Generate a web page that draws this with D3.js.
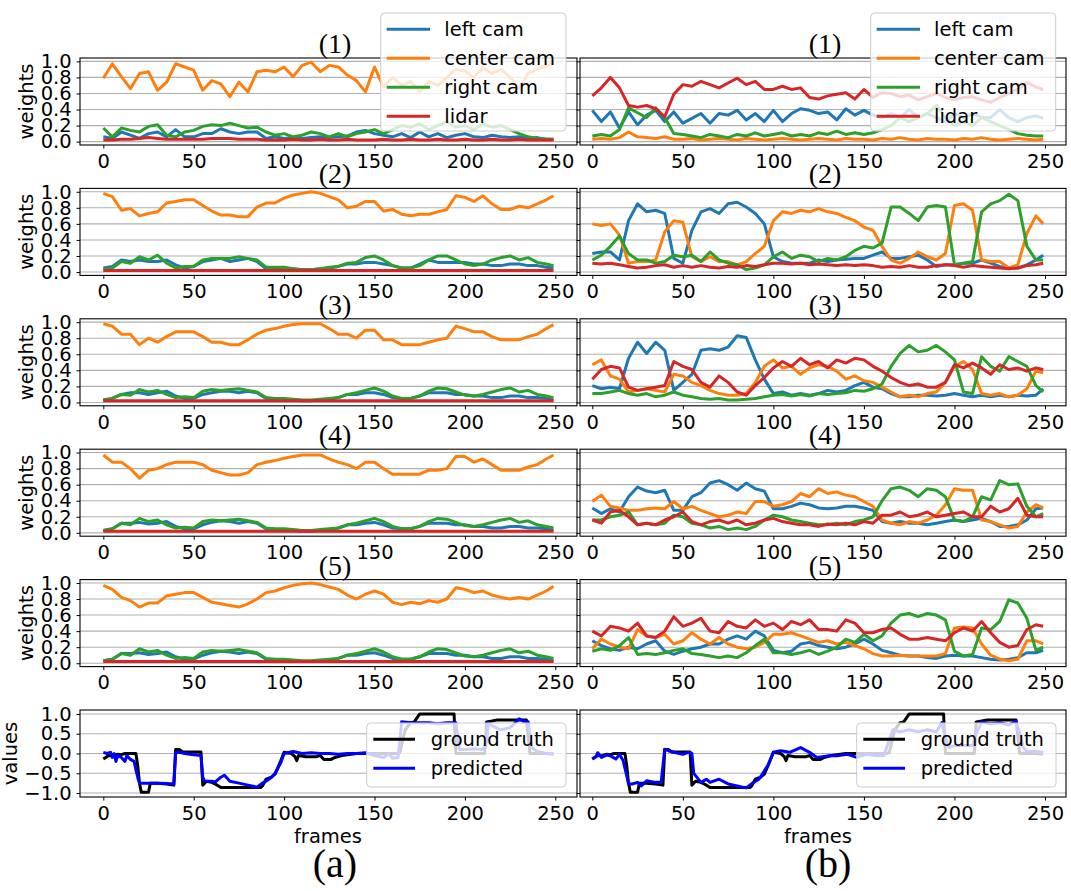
<!DOCTYPE html>
<html>
<head>
<meta charset="utf-8">
<script src="https://cdn.jsdelivr.net/npm/d3@7"></script>
<style>
  body { margin: 0; background: #fff; }
</style>
</head>
<body>
<svg id="chart"></svg>
<script>
// sampled frames (every 5th frame + last one)
const frames = [0,5,10,15,20,25,30,35,40,45,50,55,60,65,70,75,80,85,90,95,100,105,110,115,120,125,130,135,140,145,150,155,160,165,170,175,180,185,190,195,200,205,210,215,220,225,230,235,240,245,249];

const seriesNames = ["left cam", "center cam", "right cam", "lidar"];
const xTicks = [0, 50, 100, 150, 200, 250];
const weightTicks = [0, 0.2, 0.4, 0.6, 0.8, 1.0];
const valueTicks = [-1, -0.5, 0, 0.5, 1];
const rowTitles = ["(1)", "(2)", "(3)", "(4)", "(5)"];

// ---- column (a) ----
const a1Left   = [0.06,0.04,0.12,0.08,0.04,0.10,0.12,0.06,0.15,0.06,0.06,0.10,0.10,0.16,0.12,0.10,0.12,0.12,0.04,0.06,0.04,0.05,0.04,0.05,0.06,0.05,0.06,0.07,0.12,0.14,0.10,0.08,0.06,0.10,0.05,0.12,0.06,0.10,0.05,0.08,0.10,0.06,0.05,0.08,0.06,0.05,0.06,0.04,0.05,0.03,0.03];
const a1Center = [0.79,0.97,0.81,0.66,0.85,0.87,0.64,0.74,0.97,0.93,0.89,0.64,0.76,0.72,0.56,0.74,0.62,0.87,0.89,0.87,0.93,0.81,0.95,0.99,0.87,0.95,0.93,0.83,0.76,0.62,0.93,0.68,0.80,0.70,0.75,0.62,0.75,0.70,0.80,0.90,0.88,0.80,0.92,0.85,0.90,0.80,0.66,0.85,0.90,0.95,0.98];
const a1Right  = [0.17,0.06,0.17,0.14,0.12,0.19,0.21,0.08,0.06,0.12,0.14,0.19,0.21,0.20,0.23,0.20,0.17,0.18,0.12,0.08,0.10,0.06,0.08,0.12,0.10,0.06,0.10,0.06,0.10,0.12,0.15,0.10,0.15,0.20,0.18,0.22,0.15,0.20,0.25,0.18,0.20,0.15,0.22,0.18,0.20,0.15,0.10,0.06,0.04,0.03,0.03];
const a1Lidar  = [0.02,0.02,0.03,0.03,0.04,0.05,0.04,0.03,0.03,0.03,0.03,0.03,0.04,0.04,0.04,0.03,0.03,0.03,0.02,0.02,0.02,0.03,0.02,0.02,0.03,0.02,0.02,0.03,0.02,0.02,0.02,0.03,0.02,0.02,0.03,0.02,0.02,0.03,0.02,0.02,0.03,0.02,0.02,0.03,0.02,0.02,0.03,0.02,0.02,0.02,0.02];

const a2Left   = [0.05,0.07,0.15,0.13,0.15,0.13,0.13,0.15,0.09,0.05,0.07,0.13,0.15,0.17,0.13,0.15,0.17,0.13,0.04,0.04,0.04,0.04,0.03,0.03,0.04,0.05,0.07,0.10,0.10,0.12,0.12,0.10,0.08,0.05,0.05,0.10,0.15,0.12,0.12,0.12,0.12,0.10,0.10,0.08,0.08,0.10,0.10,0.08,0.08,0.06,0.05];
const a2Center = [0.98,0.94,0.77,0.79,0.70,0.73,0.75,0.86,0.88,0.90,0.90,0.83,0.76,0.71,0.71,0.69,0.69,0.81,0.86,0.86,0.92,0.96,0.98,1.00,0.98,0.94,0.90,0.80,0.82,0.88,0.88,0.76,0.78,0.72,0.70,0.72,0.72,0.75,0.78,0.95,0.93,0.88,0.95,0.85,0.78,0.78,0.82,0.80,0.85,0.90,0.95];
const a2Right  = [0.03,0.05,0.13,0.11,0.19,0.15,0.21,0.11,0.05,0.07,0.07,0.15,0.17,0.17,0.17,0.19,0.17,0.15,0.06,0.06,0.06,0.04,0.03,0.03,0.04,0.06,0.07,0.11,0.12,0.18,0.20,0.15,0.08,0.05,0.05,0.08,0.15,0.20,0.20,0.15,0.10,0.08,0.10,0.15,0.18,0.20,0.15,0.18,0.12,0.10,0.08];
const a2Lidar  = [0.02,0.02,0.02,0.02,0.02,0.02,0.02,0.02,0.02,0.02,0.02,0.02,0.02,0.02,0.02,0.02,0.02,0.02,0.02,0.02,0.02,0.02,0.02,0.02,0.02,0.02,0.02,0.02,0.02,0.02,0.02,0.02,0.02,0.02,0.02,0.02,0.02,0.02,0.02,0.02,0.02,0.02,0.02,0.02,0.02,0.02,0.02,0.02,0.02,0.02,0.02];

const a3Left   = [0.03,0.05,0.10,0.12,0.12,0.10,0.12,0.14,0.08,0.05,0.05,0.10,0.12,0.14,0.14,0.12,0.14,0.12,0.05,0.03,0.03,0.03,0.02,0.02,0.03,0.04,0.06,0.10,0.10,0.12,0.12,0.10,0.06,0.05,0.05,0.08,0.12,0.12,0.12,0.10,0.10,0.08,0.08,0.06,0.06,0.08,0.08,0.06,0.06,0.05,0.03];
const a3Center = [0.98,0.95,0.85,0.85,0.72,0.80,0.75,0.82,0.88,0.88,0.88,0.82,0.75,0.75,0.72,0.72,0.78,0.85,0.90,0.92,0.95,0.97,0.98,0.98,0.98,0.92,0.85,0.85,0.80,0.90,0.90,0.78,0.78,0.72,0.72,0.72,0.75,0.78,0.80,0.95,0.92,0.88,0.88,0.82,0.78,0.78,0.78,0.82,0.85,0.92,0.97];
const a3Right  = [0.03,0.05,0.10,0.09,0.16,0.13,0.15,0.10,0.06,0.07,0.06,0.14,0.16,0.15,0.16,0.17,0.15,0.13,0.06,0.05,0.05,0.04,0.03,0.03,0.04,0.05,0.06,0.10,0.12,0.15,0.18,0.14,0.08,0.05,0.05,0.08,0.14,0.18,0.17,0.13,0.09,0.08,0.10,0.13,0.16,0.18,0.13,0.15,0.10,0.08,0.06];
const a3Lidar  = a2Lidar;

const a4Left   = [0.03,0.05,0.12,0.12,0.13,0.11,0.12,0.14,0.08,0.05,0.05,0.10,0.13,0.15,0.14,0.12,0.14,0.12,0.05,0.03,0.03,0.03,0.02,0.02,0.03,0.04,0.06,0.10,0.10,0.12,0.13,0.10,0.06,0.05,0.05,0.08,0.12,0.12,0.12,0.10,0.10,0.08,0.08,0.06,0.06,0.08,0.08,0.06,0.06,0.05,0.03];
const a4Center = [0.97,0.88,0.88,0.80,0.68,0.78,0.80,0.85,0.88,0.88,0.88,0.85,0.78,0.75,0.72,0.72,0.75,0.85,0.88,0.90,0.93,0.95,0.97,0.97,0.97,0.92,0.88,0.85,0.80,0.88,0.88,0.80,0.73,0.73,0.73,0.73,0.78,0.78,0.80,0.95,0.95,0.88,0.92,0.85,0.78,0.78,0.78,0.82,0.85,0.92,0.97];
const a4Right  = [0.03,0.05,0.12,0.10,0.18,0.14,0.16,0.10,0.06,0.07,0.06,0.14,0.16,0.15,0.16,0.17,0.15,0.13,0.06,0.05,0.05,0.04,0.03,0.03,0.04,0.05,0.06,0.10,0.12,0.15,0.18,0.14,0.08,0.05,0.05,0.08,0.14,0.18,0.17,0.13,0.09,0.08,0.10,0.13,0.16,0.18,0.13,0.15,0.10,0.08,0.06];
const a4Lidar  = a2Lidar;

const a5Left   = [0.03,0.05,0.12,0.12,0.13,0.11,0.12,0.14,0.08,0.05,0.05,0.10,0.13,0.15,0.14,0.12,0.14,0.12,0.05,0.03,0.03,0.03,0.02,0.02,0.03,0.04,0.06,0.10,0.10,0.12,0.13,0.10,0.06,0.05,0.05,0.08,0.12,0.12,0.12,0.10,0.10,0.08,0.08,0.06,0.06,0.08,0.08,0.06,0.06,0.05,0.03];
const a5Center = [0.97,0.92,0.82,0.78,0.70,0.75,0.75,0.84,0.86,0.88,0.88,0.82,0.76,0.74,0.72,0.70,0.74,0.80,0.88,0.90,0.94,0.97,0.99,1.00,0.98,0.95,0.92,0.85,0.80,0.86,0.90,0.86,0.76,0.73,0.76,0.74,0.78,0.76,0.80,0.94,0.92,0.88,0.90,0.85,0.82,0.80,0.82,0.80,0.85,0.90,0.96];
const a5Right  = [0.03,0.05,0.12,0.10,0.18,0.14,0.16,0.10,0.06,0.07,0.06,0.14,0.16,0.15,0.16,0.17,0.15,0.13,0.06,0.05,0.05,0.04,0.03,0.03,0.04,0.05,0.06,0.10,0.12,0.15,0.18,0.14,0.08,0.05,0.05,0.08,0.14,0.18,0.17,0.13,0.09,0.08,0.10,0.13,0.16,0.18,0.13,0.15,0.10,0.08,0.06];
const a5Lidar  = a2Lidar;

// ---- column (b) ----
const b1Left   = [0.39,0.25,0.37,0.17,0.37,0.21,0.33,0.39,0.25,0.37,0.23,0.29,0.35,0.23,0.35,0.33,0.39,0.27,0.35,0.25,0.39,0.25,0.35,0.41,0.39,0.35,0.37,0.27,0.41,0.33,0.39,0.33,0.30,0.35,0.30,0.40,0.30,0.35,0.30,0.25,0.35,0.30,0.35,0.30,0.30,0.40,0.30,0.25,0.30,0.32,0.29];
const b1Center = [0.03,0.04,0.03,0.05,0.12,0.06,0.05,0.04,0.06,0.03,0.03,0.04,0.02,0.03,0.04,0.03,0.02,0.04,0.03,0.02,0.03,0.04,0.03,0.02,0.03,0.04,0.03,0.02,0.04,0.03,0.03,0.02,0.04,0.03,0.05,0.03,0.02,0.04,0.03,0.03,0.02,0.04,0.03,0.05,0.03,0.02,0.03,0.04,0.03,0.02,0.03];
const b1Right  = [0.07,0.09,0.07,0.15,0.42,0.36,0.30,0.42,0.30,0.10,0.09,0.07,0.05,0.09,0.07,0.05,0.09,0.07,0.11,0.07,0.09,0.11,0.07,0.09,0.07,0.11,0.09,0.13,0.09,0.11,0.09,0.11,0.15,0.20,0.30,0.25,0.30,0.35,0.45,0.30,0.20,0.25,0.20,0.30,0.25,0.20,0.15,0.10,0.08,0.07,0.07];
const b1Lidar  = [0.57,0.67,0.80,0.67,0.45,0.43,0.45,0.41,0.31,0.59,0.71,0.69,0.75,0.71,0.67,0.73,0.79,0.71,0.75,0.65,0.65,0.69,0.65,0.67,0.55,0.53,0.57,0.59,0.61,0.53,0.65,0.55,0.61,0.60,0.56,0.58,0.52,0.56,0.60,0.55,0.52,0.55,0.56,0.52,0.49,0.55,0.60,0.65,0.74,0.68,0.65];

const b2Left   = [0.23,0.25,0.25,0.15,0.64,0.85,0.75,0.77,0.73,0.17,0.11,0.52,0.75,0.79,0.73,0.85,0.87,0.81,0.73,0.60,0.19,0.13,0.11,0.11,0.11,0.15,0.13,0.15,0.16,0.17,0.17,0.21,0.25,0.17,0.17,0.19,0.21,0.15,0.07,0.09,0.09,0.11,0.11,0.15,0.11,0.07,0.05,0.05,0.09,0.15,0.21];
const b2Center = [0.60,0.58,0.60,0.46,0.11,0.13,0.13,0.15,0.50,0.64,0.62,0.19,0.13,0.19,0.13,0.13,0.09,0.13,0.23,0.32,0.64,0.75,0.73,0.77,0.75,0.79,0.75,0.73,0.68,0.64,0.56,0.52,0.32,0.15,0.11,0.17,0.25,0.19,0.15,0.23,0.83,0.85,0.77,0.15,0.13,0.13,0.05,0.09,0.48,0.70,0.60];
const b2Right  = [0.15,0.21,0.32,0.45,0.23,0.15,0.15,0.11,0.13,0.21,0.19,0.21,0.13,0.25,0.15,0.11,0.09,0.03,0.05,0.09,0.19,0.25,0.17,0.21,0.19,0.13,0.17,0.15,0.19,0.27,0.32,0.30,0.36,0.81,0.81,0.73,0.64,0.81,0.83,0.81,0.09,0.11,0.13,0.75,0.85,0.89,0.97,0.89,0.32,0.15,0.15];
const b2Lidar  = [0.11,0.10,0.11,0.09,0.07,0.05,0.06,0.08,0.09,0.06,0.08,0.06,0.08,0.06,0.05,0.07,0.06,0.08,0.07,0.09,0.11,0.11,0.10,0.11,0.09,0.10,0.09,0.08,0.09,0.08,0.09,0.08,0.06,0.07,0.06,0.08,0.06,0.06,0.08,0.09,0.08,0.06,0.08,0.07,0.06,0.05,0.04,0.05,0.08,0.09,0.11];

const b3Left   = [0.21,0.17,0.19,0.17,0.55,0.75,0.61,0.75,0.65,0.15,0.25,0.35,0.65,0.67,0.65,0.69,0.83,0.81,0.53,0.29,0.11,0.13,0.09,0.11,0.09,0.11,0.15,0.13,0.15,0.21,0.25,0.19,0.17,0.11,0.07,0.07,0.09,0.09,0.08,0.09,0.11,0.09,0.07,0.09,0.07,0.09,0.07,0.09,0.08,0.09,0.17];
const b3Center = [0.47,0.53,0.33,0.29,0.13,0.15,0.17,0.15,0.13,0.35,0.33,0.25,0.21,0.15,0.11,0.09,0.09,0.11,0.25,0.45,0.53,0.43,0.45,0.35,0.43,0.47,0.45,0.39,0.29,0.33,0.27,0.25,0.19,0.13,0.07,0.09,0.07,0.11,0.13,0.25,0.45,0.51,0.41,0.11,0.09,0.11,0.07,0.09,0.17,0.39,0.37];
const b3Right  = [0.11,0.11,0.13,0.15,0.11,0.09,0.11,0.07,0.09,0.13,0.09,0.07,0.05,0.04,0.05,0.03,0.03,0.04,0.05,0.07,0.09,0.10,0.08,0.10,0.08,0.11,0.10,0.11,0.12,0.15,0.14,0.17,0.23,0.45,0.61,0.71,0.63,0.65,0.71,0.63,0.53,0.13,0.11,0.57,0.45,0.39,0.57,0.51,0.45,0.21,0.13];
const b3Lidar  = [0.29,0.41,0.45,0.43,0.19,0.15,0.17,0.19,0.21,0.51,0.45,0.41,0.25,0.19,0.33,0.25,0.13,0.09,0.21,0.31,0.43,0.51,0.45,0.55,0.47,0.51,0.43,0.53,0.49,0.55,0.53,0.45,0.39,0.31,0.25,0.21,0.23,0.19,0.19,0.25,0.47,0.43,0.49,0.43,0.35,0.47,0.41,0.43,0.39,0.43,0.41];

const b4Left   = [0.31,0.24,0.30,0.26,0.45,0.57,0.52,0.50,0.53,0.28,0.28,0.45,0.50,0.62,0.65,0.60,0.53,0.62,0.55,0.52,0.30,0.30,0.33,0.37,0.35,0.31,0.30,0.31,0.33,0.33,0.31,0.28,0.14,0.12,0.14,0.12,0.12,0.10,0.12,0.14,0.16,0.14,0.16,0.18,0.14,0.08,0.08,0.10,0.16,0.30,0.31];
const b4Center = [0.39,0.47,0.33,0.31,0.28,0.28,0.30,0.31,0.30,0.39,0.30,0.33,0.28,0.24,0.20,0.22,0.26,0.24,0.39,0.39,0.33,0.35,0.39,0.49,0.45,0.55,0.49,0.51,0.47,0.45,0.39,0.33,0.16,0.12,0.10,0.14,0.12,0.16,0.22,0.35,0.55,0.53,0.53,0.16,0.14,0.10,0.06,0.08,0.26,0.35,0.31];
const b4Right  = [0.16,0.16,0.20,0.22,0.26,0.10,0.12,0.10,0.12,0.22,0.20,0.12,0.10,0.06,0.08,0.04,0.06,0.04,0.08,0.16,0.22,0.20,0.16,0.14,0.12,0.10,0.10,0.12,0.10,0.14,0.16,0.20,0.40,0.55,0.57,0.53,0.45,0.55,0.53,0.45,0.16,0.14,0.20,0.45,0.41,0.65,0.60,0.61,0.33,0.20,0.24];
const b4Lidar  = [0.16,0.12,0.26,0.28,0.20,0.10,0.12,0.10,0.16,0.20,0.26,0.14,0.10,0.14,0.16,0.12,0.16,0.10,0.12,0.16,0.18,0.14,0.12,0.10,0.10,0.08,0.11,0.10,0.12,0.10,0.14,0.12,0.22,0.22,0.26,0.20,0.22,0.26,0.20,0.22,0.24,0.26,0.20,0.20,0.33,0.26,0.30,0.43,0.22,0.20,0.20];

const b5Left   = [0.28,0.22,0.18,0.16,0.20,0.18,0.24,0.28,0.15,0.11,0.15,0.18,0.20,0.24,0.24,0.30,0.34,0.30,0.40,0.34,0.16,0.13,0.15,0.24,0.26,0.22,0.20,0.18,0.20,0.24,0.30,0.24,0.16,0.13,0.10,0.09,0.09,0.07,0.06,0.09,0.10,0.09,0.09,0.07,0.05,0.04,0.05,0.07,0.13,0.13,0.16];
const b5Center = [0.18,0.30,0.24,0.20,0.18,0.42,0.34,0.32,0.36,0.24,0.28,0.38,0.30,0.24,0.32,0.24,0.20,0.18,0.20,0.26,0.36,0.36,0.38,0.34,0.30,0.26,0.28,0.24,0.26,0.22,0.18,0.12,0.09,0.09,0.10,0.09,0.09,0.09,0.09,0.12,0.44,0.45,0.44,0.24,0.10,0.05,0.03,0.05,0.28,0.28,0.24];
const b5Right  = [0.15,0.18,0.16,0.22,0.32,0.11,0.12,0.11,0.13,0.16,0.18,0.12,0.11,0.09,0.07,0.09,0.07,0.13,0.22,0.30,0.13,0.13,0.11,0.13,0.16,0.11,0.15,0.20,0.30,0.26,0.36,0.28,0.34,0.50,0.60,0.62,0.58,0.62,0.60,0.54,0.15,0.09,0.11,0.44,0.42,0.52,0.79,0.75,0.56,0.16,0.20];
const b5Lidar  = [0.40,0.34,0.46,0.44,0.40,0.50,0.34,0.32,0.40,0.58,0.46,0.50,0.56,0.40,0.38,0.52,0.46,0.44,0.54,0.46,0.50,0.42,0.52,0.48,0.54,0.42,0.42,0.40,0.54,0.50,0.38,0.38,0.42,0.44,0.36,0.30,0.30,0.32,0.30,0.28,0.38,0.44,0.40,0.52,0.38,0.26,0.20,0.22,0.42,0.48,0.46];

// ---- steering values (bottom row), read at the frames where they change ----
const gtFrames = [0,3,5,8,10,12,18,19,20,21,25,26,30,35,39,40,42,44,54,55,57,60,63,65,87,88,90,93,95,98,100,104,106,107,108,112,118,120,122,126,128,132,137,140,162,164,167,170,172,175,194,195,211,212,215,218,234,236,245,249];
const gtValues = [-0.14,-0.05,-0.06,-0.02,-0.03,0,0,-0.3,-0.75,-0.98,-0.98,-0.75,-0.75,-0.77,-0.8,0.1,0.1,0.04,0.04,-0.8,-0.7,-0.73,-0.8,-0.86,-0.86,-0.82,-0.65,-0.6,-0.52,-0.2,0.03,0,-0.08,-0.18,-0.05,-0.08,-0.08,-0.05,-0.15,-0.15,-0.1,-0.05,-0.02,0,0,0.02,0.6,0.78,0.8,1,1,0,0,0.8,0.82,0.85,0.85,0,0,-0.02];

const predAFrames = [0,2,4,5,6,7,8,10,12,13,15,17,18,19,20,25,30,35,39,40,42,45,50,54,55,56,60,62,65,67,70,75,80,85,88,90,93,95,98,100,105,110,115,120,125,130,135,140,145,150,155,158,160,163,164,165,170,175,180,185,190,195,197,200,205,210,212,213,215,220,225,230,233,235,237,240,245,249];
const predAValues = [0.03,0.0,0.03,-0.1,0.0,-0.2,-0.05,-0.1,-0.2,-0.05,-0.15,-0.2,-0.4,-0.6,-0.75,-0.75,-0.75,-0.76,-0.77,0.02,0.03,0.0,-0.03,-0.05,-0.6,-0.7,-0.7,-0.72,-0.6,-0.55,-0.7,-0.75,-0.8,-0.85,-0.75,-0.7,-0.6,-0.5,-0.25,0.0,0.05,0.0,0.02,0.0,0.0,-0.02,0.0,0.0,0.02,-0.05,-0.1,0.0,-0.12,-0.1,0.3,0.8,0.78,0.78,0.78,0.75,0.78,0.78,0.1,0.1,0.12,0.1,0.3,0.78,0.7,0.6,0.65,0.88,0.8,0.8,0.15,0.05,0.0,0.0];

const predBFrames = [0,2,3,5,8,10,13,15,17,19,20,22,25,27,30,35,38,40,42,45,50,53,55,56,57,60,63,65,70,75,80,85,89,92,97,100,104,109,115,120,124,130,135,141,146,151,157,161,166,170,175,180,185,190,193,195,197,200,205,210,212,215,220,225,230,234,236,238,240,245,249];
const predBValues = [-0.14,-0.08,0.02,-0.1,-0.04,-0.06,-0.14,-0.02,-0.18,-0.56,-0.77,-0.77,-0.73,-0.82,-0.69,-0.73,-0.73,0.11,0.07,0.03,-0.02,0.03,0.0,-0.5,-0.56,-0.73,-0.65,-0.73,-0.65,-0.77,-0.82,-0.87,-0.73,-0.65,-0.3,0.03,0.07,0.03,0.15,0.03,-0.1,-0.06,-0.06,-0.02,-0.1,-0.02,-0.06,-0.05,0.6,0.55,0.6,0.55,0.6,0.55,0.78,0.4,0.15,0.2,0.2,0.2,0.5,0.8,0.75,0.78,0.72,0.82,0.5,0.15,0.05,0.05,0.03];

// ---------------------------------------------------------------
const width = 1071, height = 891;
const camColors = ["#1f77b4", "#ff7f0e", "#2ca02c", "#d62728"];
const font = "DejaVu Sans";
const fontSize = 19.5;

const cols = [
  { x0: 80,  x1: 577,  domain: [-12.9, 262], title: 335, label: 328, tag: "(a)", tagX: 335 },
  { x0: 580, x1: 1066, domain: [-6.8, 261.6], title: 825, label: 818, tag: "(b)", tagX: 828 }
];
const rowTops = [58, 188.4, 318.8, 449.2, 579.6, 710];
const rowH = 87;

const svg = d3.select("#chart")
    .attr("width", width)
    .attr("height", height)
    .attr("viewBox", [0, 0, width, height])
    .style("font-family", font);

svg.append("rect").attr("width", width).attr("height", height).attr("fill", "#fff");

function drawPanel(ci, ri, lines, yDomain, yTicks, yFmt) {
  const c = cols[ci];
  const top = rowTops[ri];
  const x = d3.scaleLinear().domain(c.domain).range([c.x0, c.x1]);
  const y = d3.scaleLinear().domain(yDomain).range([top + rowH, top]);
  const g = svg.append("g");

  // horizontal grid
  g.selectAll(".grid")
    .data(yTicks)
    .join("line")
      .attr("x1", c.x0).attr("x2", c.x1)
      .attr("y1", d => y(d)).attr("y2", d => y(d))
      .attr("stroke", "#b0b0b0")
      .attr("stroke-width", 1.1);

  const clipId = `clip${ci}${ri}`;
  g.append("clipPath").attr("id", clipId)
    .append("rect")
      .attr("x", c.x0).attr("y", top)
      .attr("width", c.x1 - c.x0).attr("height", rowH);

  lines.forEach(s => {
    const line = d3.line()
        .x((d, i) => x(s.frames[i]))
        .y(d => y(d));
    g.append("path")
      .datum(s.values)
      .attr("clip-path", `url(#${clipId})`)
      .attr("fill", "none")
      .attr("stroke", s.color)
      .attr("stroke-width", 3)
      .attr("stroke-linejoin", "round")
      .attr("d", line);
  });

  // axes
  g.append("g")
      .attr("transform", `translate(0,${top + rowH})`)
      .call(d3.axisBottom(x).tickValues(xTicks).tickSize(3.5).tickPadding(5.5).tickFormat(d3.format("d")))
      .call(a => {
        a.select(".domain").remove();
        a.selectAll("text").attr("font-size", fontSize).attr("font-family", font).attr("fill", "#000");
      });

  g.append("g")
      .attr("transform", `translate(${c.x0},0)`)
      .call(d3.axisLeft(y).tickValues(yTicks).tickSize(3.5).tickPadding(4.8)
        .tickFormat(ci === 0 ? yFmt : () => ""))
      .call(a => {
        a.select(".domain").remove();
        a.selectAll("text").attr("font-size", fontSize).attr("font-family", font).attr("fill", "#000");
      });

  g.append("rect")
      .attr("x", c.x0).attr("y", top)
      .attr("width", c.x1 - c.x0).attr("height", rowH)
      .attr("fill", "none")
      .attr("stroke", "#000")
      .attr("stroke-width", 1.1);
}

function drawLegend(x0, y0, w, h, entries, lineX0, lineX1, textX) {
  const g = svg.append("g");
  g.append("rect")
      .attr("x", x0).attr("y", y0)
      .attr("width", w).attr("height", h)
      .attr("rx", 4)
      .attr("fill", "#fff")
      .attr("fill-opacity", 0.8)
      .attr("stroke", "#cccccc")
      .attr("stroke-width", 1);
  entries.forEach(e => {
    g.append("line")
        .attr("x1", lineX0).attr("x2", lineX1)
        .attr("y1", e.y).attr("y2", e.y)
        .attr("stroke", e.color)
        .attr("stroke-width", 3);
    g.append("text")
        .attr("x", textX).attr("y", e.y + 6.8)
        .attr("font-size", fontSize)
        .attr("fill", "#000")
        .text(e.label);
  });
}

const weightPanels = [
  [[a1Left, a1Center, a1Right, a1Lidar], [b1Left, b1Center, b1Right, b1Lidar]],
  [[a2Left, a2Center, a2Right, a2Lidar], [b2Left, b2Center, b2Right, b2Lidar]],
  [[a3Left, a3Center, a3Right, a3Lidar], [b3Left, b3Center, b3Right, b3Lidar]],
  [[a4Left, a4Center, a4Right, a4Lidar], [b4Left, b4Center, b4Right, b4Lidar]],
  [[a5Left, a5Center, a5Right, a5Lidar], [b5Left, b5Center, b5Right, b5Lidar]]
];

weightPanels.forEach((row, ri) => {
  row.forEach((series, ci) => {
    drawPanel(ci, ri,
      series.map((v, k) => ({ frames: frames, values: v, color: camColors[k] })),
      [-0.042, 1.042], weightTicks, d3.format(".1f"));
    svg.append("text")
        .attr("x", cols[ci].title).attr("y", rowTops[ri] - 5)
        .attr("text-anchor", "middle")
        .attr("font-family", "Liberation Serif")
        .attr("font-size", 28)
        .text(rowTitles[ri]);
  });
  svg.append("text")
      .attr("transform", `translate(33,${rowTops[ri] + rowH / 2}) rotate(-90)`)
      .attr("text-anchor", "middle")
      .attr("font-size", fontSize)
      .text("weights");
});

const predValues = [[predAFrames, predAValues], [predBFrames, predBValues]];
predValues.forEach(([pf, pv], ci) => {
  drawPanel(ci, 5, [
    { frames: gtFrames, values: gtValues, color: "#000" },
    { frames: pf, values: pv, color: "#0000ff" }
  ], [-1.1, 1.1], valueTicks, d3.format(".1f"));
  svg.append("text")
      .attr("x", cols[ci].label).attr("y", 843)
      .attr("text-anchor", "middle")
      .attr("font-size", fontSize)
      .text("frames");
  svg.append("text")
      .attr("x", cols[ci].tagX).attr("y", 877)
      .attr("text-anchor", "middle")
      .attr("font-family", "Liberation Serif")
      .attr("font-size", 40)
      .text(cols[ci].tag);
});

svg.append("text")
    .attr("transform", `translate(17,${rowTops[5] + rowH / 2}) rotate(-90)`)
    .attr("text-anchor", "middle")
    .attr("font-size", fontSize)
    .text("values");

// legends
const camEntries = seriesNames.map((n, k) => ({ label: n, color: camColors[k], y: 29.3 + 29 * k }));
drawLegend(380.7, 13, 185.3, 118, camEntries, 386.7, 430, 444.3);
drawLegend(870.7, 13, 185, 118, camEntries, 876.7, 920, 934);

const valEntries = [
  { label: "ground truth", color: "#000", y: 739.3 },
  { label: "predicted", color: "#0000ff", y: 768.3 }
];
drawLegend(366.7, 723, 199.3, 64, valEntries, 373.3, 415, 430.7);
drawLegend(856.7, 723, 199.3, 64, valEntries, 863.3, 905, 920.7);
</script>
</body>
</html>
